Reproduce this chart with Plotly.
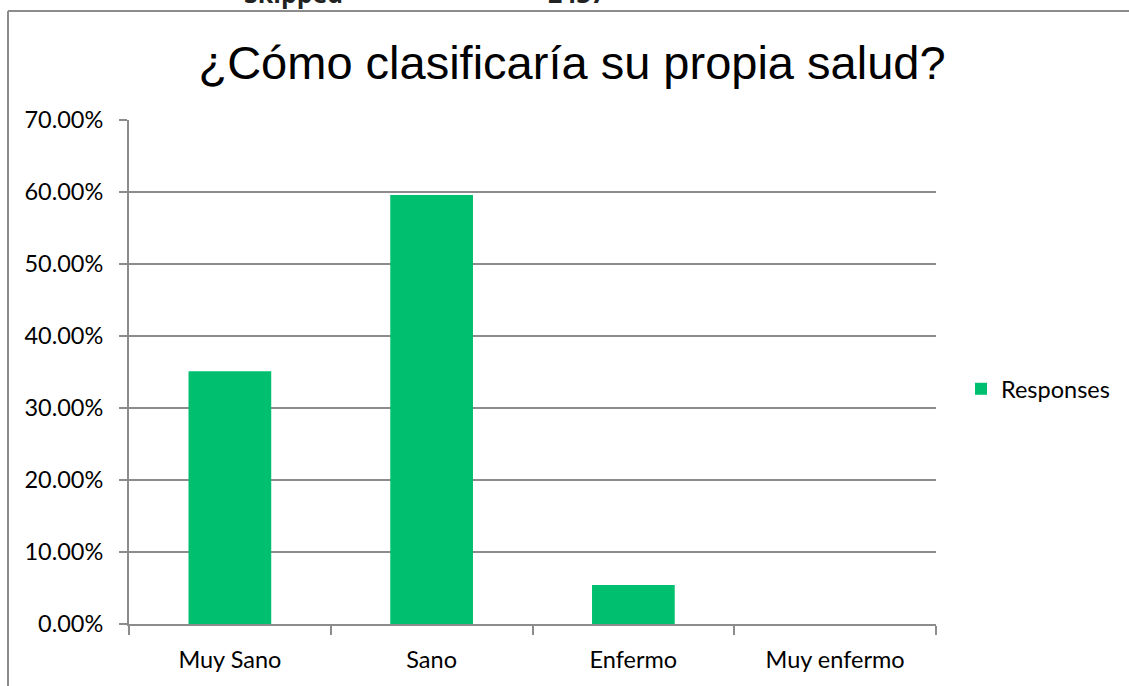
import plotly.graph_objects as go

# Survey results: self-rated health
categories = ["Muy Sano", "Sano", "Enfermo", "Muy enfermo"]
responses = [0.351, 0.596, 0.054, 0.0]
series_name = "Responses"
title_text = "¿Cómo clasificaría su propia salud?"
header_labels = ["Skipped", "2437"]

W, H = 1129, 686
ML, MR, MT, MB = 129, 193, 120, 62
PW, PH = W - ML - MR, H - MT - MB

GREEN = "#00BF6F"
GRID = "#8c8c8c"
TICK_FONT = dict(family="Lato, Carlito, Calibri, sans-serif", size=23.5, color="#000000")


def px_x(x):
    return (x - ML) / PW


def px_y(y):
    return (H - MB - y) / PH


fig = go.Figure()
fig.add_trace(go.Bar(
    x=categories,
    y=responses,
    name=series_name,
    marker=dict(color=GREEN, line=dict(width=0)),
    showlegend=True,
))

# Outer chart frame (left and top edges)
fig.add_shape(type="line", xref="paper", yref="paper",
              x0=px_x(8), x1=px_x(8), y0=px_y(11), y1=px_y(H + 5),
              line=dict(color=GRID, width=2))
fig.add_shape(type="line", xref="paper", yref="paper",
              x0=px_x(8), x1=px_x(W + 5), y0=px_y(11), y1=px_y(11),
              line=dict(color=GRID, width=2))

# Table header peeking above the frame
for label, cx in zip(header_labels, [293, 576]):
    fig.add_annotation(text="<b>%s</b>" % label, xref="paper", yref="paper",
                       x=px_x(cx), y=px_y(12), xanchor="center", yanchor="bottom",
                       showarrow=False,
                       font=dict(family="Open Sans, sans-serif", size=25, color="#222222"))

fig.update_layout(
    width=W, height=H,
    margin=dict(l=ML, r=MR, t=MT, b=MB),
    paper_bgcolor="white", plot_bgcolor="white",
    bargap=0.59,
    title=dict(text=title_text, x=572 / W, xanchor="center", xref="container",
               y=1 - 79 / H, yanchor="bottom", yref="container",
               font=dict(family="Liberation Sans, Arial, sans-serif", size=47, color="#000000")),
    legend=dict(x=px_x(961), y=px_y(389), xanchor="left", yanchor="middle",
                font=TICK_FONT, bgcolor="rgba(0,0,0,0)"),
    xaxis=dict(
        type="category",
        showline=True, linecolor=GRID, linewidth=2,
        ticks="outside", ticklen=9, tickwidth=2, tickcolor=GRID,
        tickson="boundaries",
        showgrid=False,
        tickfont=TICK_FONT,
        ticklabelstandoff=14,
        fixedrange=True,
    ),
    yaxis=dict(
        range=[0, 0.7], dtick=0.1, tickformat=".2%",
        showline=True, linecolor=GRID, linewidth=2,
        ticks="outside", ticklen=8, tickwidth=2, tickcolor=GRID,
        showgrid=True, gridcolor=GRID, gridwidth=2,
        zeroline=False,
        tickfont=TICK_FONT,
        ticklabelstandoff=11,
        fixedrange=True,
    ),
)

fig.write_html("out.html")
